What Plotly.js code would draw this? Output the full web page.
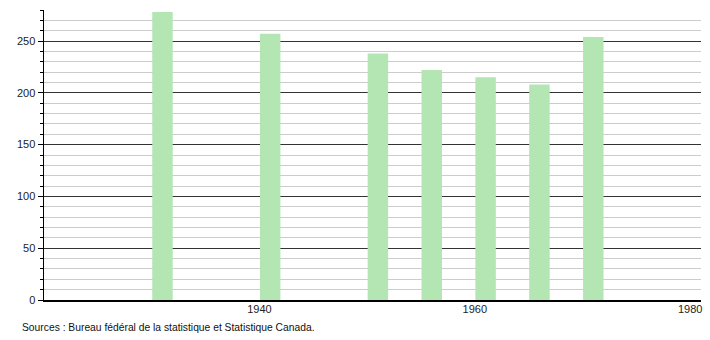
<!DOCTYPE html>
<html>
<head>
<meta charset="utf-8">
<script src="https://cdn.plot.ly/plotly-3.0.1.min.js"></script>
<style>html,body{margin:0;padding:0;background:#fff;}#chart{width:710px;height:340px;}</style>
</head>
<body>
<div id="chart"></div>
<script>
var years = [1931, 1941, 1951, 1956, 1961, 1966, 1971];
var population = [278, 257, 238, 222, 215, 208, 254];
var xTicks = [1940, 1960, 1980];
var yTicks = [0, 50, 100, 150, 200, 250];
var sourceText = "Sources : Bureau fédéral de la statistique et Statistique Canada.";

var W = 710, L = 44, R = 9;
var plotW = W - L - R;

var data = [{
  type: 'bar',
  x: years,
  y: population,
  width: 1.9,
  marker: {color: '#b3e6b3', line: {width: 0}},
  hoverinfo: 'x+y'
}];

var layout = {
  width: 710, height: 340,
  margin: {l: L, r: R, t: 10, b: 40},
  paper_bgcolor: '#fff', plot_bgcolor: '#fff',
  showlegend: false,
  font: {family: 'Liberation Sans, Arial, sans-serif', size: 11, color: '#222'},
  xaxis: {
    range: [1920, 1981],
    tickvals: xTicks,
    ticktext: xTicks.map(String),
    showgrid: false, zeroline: false,
    showline: true, linecolor: '#000', linewidth: 1.5,
    ticks: '', ticklabelstandoff: -2,
    tickfont: {size: 11, color: '#222'}
  },
  yaxis: {
    range: [0, 280],
    tickvals: yTicks,
    showgrid: true, gridcolor: '#333', gridwidth: 1,
    zeroline: false,
    showline: true, linecolor: '#000', linewidth: 1.5,
    ticks: 'outside', ticklen: 5, tickcolor: '#000', tickwidth: 1,
    tickfont: {size: 11, color: '#222'},
    minor: {dtick: 10, tick0: 0, showgrid: true, gridcolor: '#ccc', gridwidth: 1, ticks: 'outside', ticklen: 3, tickcolor: '#000'}
  },
  annotations: [{
    text: sourceText,
    xref: 'paper', yref: 'paper',
    x: (20 - L) / plotW, y: -0.095,
    xanchor: 'left', yanchor: 'middle',
    showarrow: false,
    font: {size: 10.3, color: '#111'}
  }]
};

Plotly.newPlot('chart', data, layout, {displayModeBar: false, staticPlot: true});
</script>
</body>
</html>
